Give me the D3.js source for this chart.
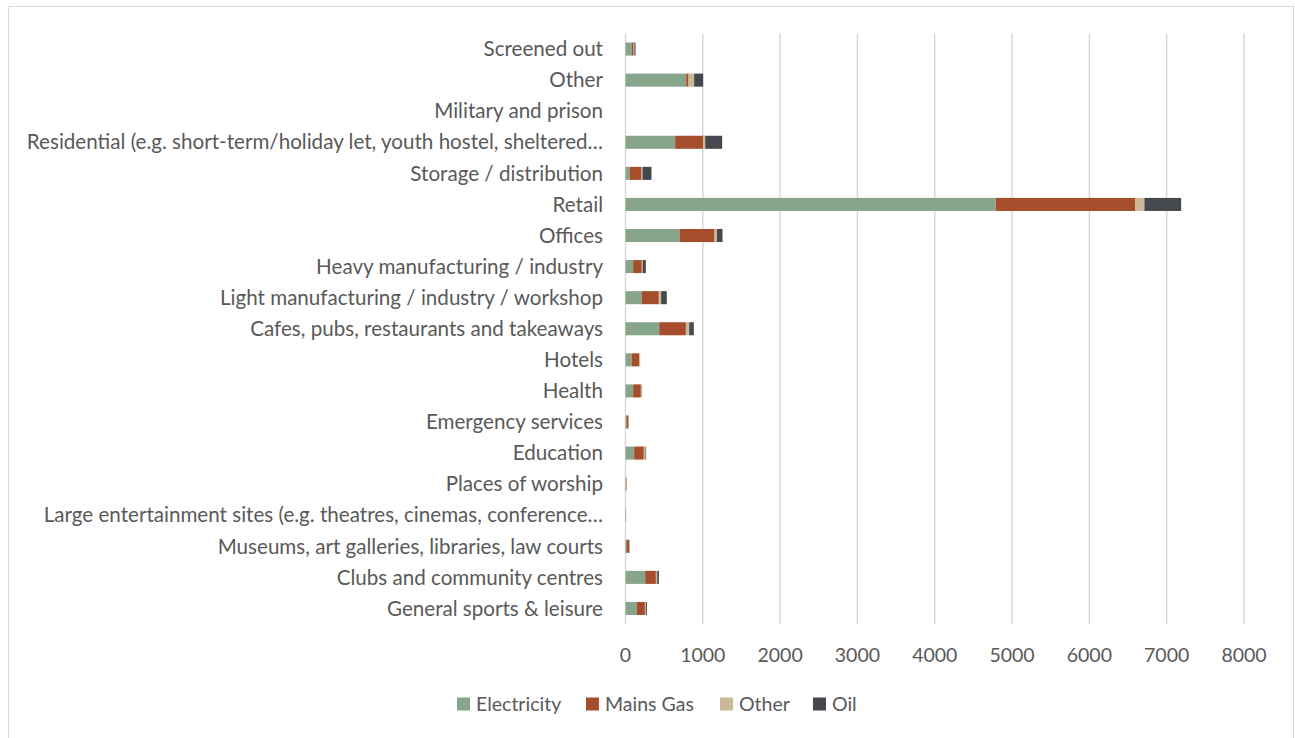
<!DOCTYPE html>
<html>
<head>
<meta charset="utf-8">
<script src="https://cdn.jsdelivr.net/npm/d3@7"></script>
<style>
  body { margin: 0; background: #fff; }
  text { font-family: Lato, "Open Sans", sans-serif; fill: #595959; }
</style>
</head>
<body>
<div class="chart-area"></div>
<script>
// stacked horizontal bar chart, Excel style

// ---- Data (bottom row first, like Excel) ----
const categories = [
    "General sports & leisure",
    "Clubs and community centres",
    "Museums, art galleries, libraries, law courts",
    "Large entertainment sites (e.g. theatres, cinemas, conference…",
    "Places of worship",
    "Education",
    "Emergency services",
    "Health",
    "Hotels",
    "Cafes, pubs, restaurants and takeaways",
    "Light manufacturing / industry / workshop",
    "Heavy manufacturing / industry",
    "Offices",
    "Retail",
    "Storage / distribution",
    "Residential (e.g. short-term/holiday let, youth hostel, sheltered…",
    "Military and prison",
    "Other",
    "Screened out"
];

const electricity = [147, 255, 13, 3, 5, 112, 13, 99, 78, 436, 211, 99, 699, 4790, 52, 643, 0, 785, 80];
const mainsGas    = [104, 138, 35, 3, 8, 125, 26, 99, 99, 345, 220, 112, 453, 1801, 155, 362, 0, 30, 25];
const otherFuel   = [13, 17, 2, 2, 1, 22, 1, 13, 13, 43, 30, 13, 30, 121, 13, 26, 0, 73, 10];
const oil         = [13, 22, 3, 0, 0, 8, 0, 3, 0, 60, 73, 39, 73, 475, 116, 219, 0, 116, 15];

const seriesNames = ["Electricity", "Mains Gas", "Other", "Oil"];
const seriesColors = ["#87a58a", "#a64d2c", "#c9b996", "#45484d"];
const xTicks = [0, 1000, 2000, 3000, 4000, 5000, 6000, 7000, 8000];

// ---- Sizes ----
const svgWidth = 1295;
const svgHeight = 738;
const plotLeft = 625.5;
const plotRight = 1244;
const plotTop = 33.5;
const plotBottom = 624;

const svg = d3.select(".chart-area").append("svg")
    .attr("width", svgWidth)
    .attr("height", svgHeight);

// frame
svg.append("rect")
    .attr("x", 8.5).attr("y", 6.5)
    .attr("width", 1285).attr("height", 740)
    .attr("fill", "none")
    .attr("stroke", "#d9d9d9");

// table for stacking
const table = categories.map((c, i) => ({
    category: c,
    "Electricity": electricity[i],
    "Mains Gas": mainsGas[i],
    "Other": otherFuel[i],
    "Oil": oil[i]
}));

const stacked = d3.stack().keys(seriesNames)(table);

const x = d3.scaleLinear()
    .domain([0, 8000])
    .range([plotLeft, plotRight]);

const y = d3.scaleBand()
    .domain(categories.slice().reverse())
    .range([plotTop, plotBottom])
    .paddingInner(0.58)
    .paddingOuter(0.29);

const color = d3.scaleOrdinal().domain(seriesNames).range(seriesColors);

// gridlines
svg.append("g")
    .selectAll("line")
    .data(xTicks)
    .join("line")
    .attr("x1", d => x(d)).attr("x2", d => x(d))
    .attr("y1", plotTop).attr("y2", plotBottom)
    .attr("stroke", "#d9d9d9")
    .attr("stroke-width", 1.5);

// bars
svg.append("g")
    .selectAll("g")
    .data(stacked)
    .join("g")
    .attr("fill", d => color(d.key))
    .selectAll("rect")
    .data(d => d)
    .join("rect")
    .attr("x", d => x(d[0]))
    .attr("y", d => y(d.data.category))
    .attr("width", d => x(d[1]) - x(d[0]))
    .attr("height", y.bandwidth());

// category labels
svg.append("g")
    .selectAll("text")
    .data(categories)
    .join("text")
    .attr("x", 603)
    .attr("y", d => y(d) + y.bandwidth() / 2)
    .attr("dy", "0.35em")
    .attr("text-anchor", "end")
    .style("font-size", "20.6px")
    .text(d => d);

// x tick labels
svg.append("g")
    .selectAll("text")
    .data(xTicks)
    .join("text")
    .attr("x", d => x(d))
    .attr("y", 655)
    .attr("dy", "0.35em")
    .attr("text-anchor", "middle")
    .style("font-size", "19.5px")
    .text(d => d);

// legend
const legendX = [457, 586, 720, 813];
const legend = svg.append("g")
    .selectAll("g")
    .data(seriesNames)
    .join("g")
    .attr("transform", (d, i) => `translate(${legendX[i]}, 704)`);

legend.append("rect")
    .attr("x", 0).attr("y", -6.5)
    .attr("width", 13).attr("height", 13)
    .attr("fill", d => color(d));

legend.append("text")
    .attr("x", 19)
    .attr("dy", "0.35em")
    .style("font-size", "19.5px")
    .text(d => d);
</script>
</body>
</html>
